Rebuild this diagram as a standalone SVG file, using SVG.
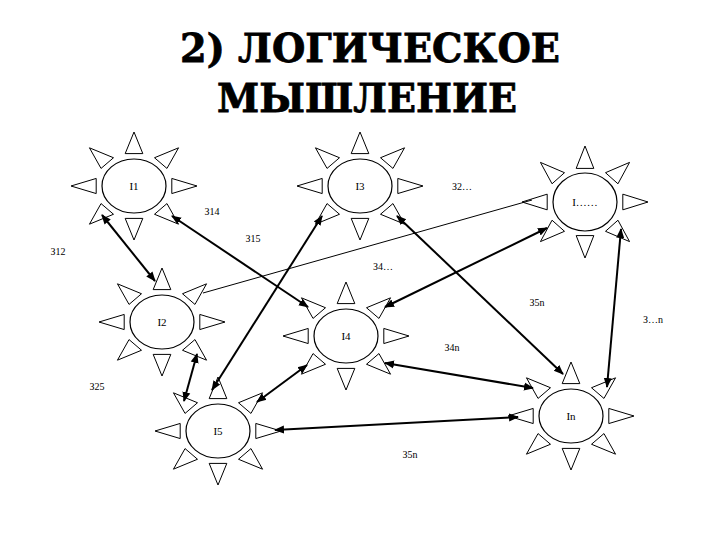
<svg xmlns="http://www.w3.org/2000/svg" xmlns:xlink="http://www.w3.org/1999/xlink" width="720" height="540" viewBox="0 0 720 540">
<style>
.ray{fill:#fff;stroke:#000;stroke-width:1;vector-effect:non-scaling-stroke}
.core{fill:#fff;stroke:#000;stroke-width:1.2}
.nl{font-family:"Liberation Serif","Times New Roman",serif;font-size:11px;text-anchor:middle;fill:#000}
.lb{font-family:"Liberation Serif","Times New Roman",serif;font-size:10px;text-anchor:middle;fill:#000}
.title{font-family:"DejaVu Serif","Liberation Serif",serif;font-weight:bold;font-size:40px;text-anchor:middle;fill:#000;stroke:#000;stroke-width:0.8}
.thick{stroke:#000;stroke-width:2;fill:none;marker-start:url(#ah);marker-end:url(#ah)}
.thin{stroke:#000;stroke-width:1;fill:none}
</style>
<defs>
<marker id="ah" viewBox="0 0 10 10" refX="9" refY="5" markerWidth="5" markerHeight="5" orient="auto-start-reverse">
<path d="M0,1 L10,5 L0,9 Z" fill="#000"/>
</marker>
<g id="rays">
<polygon class="ray" points="1,0 0.6,-0.14 0.6,0.14"/>
<polygon class="ray" points="1,0 0.6,-0.14 0.6,0.14" transform="rotate(45)"/>
<polygon class="ray" points="1,0 0.6,-0.14 0.6,0.14" transform="rotate(90)"/>
<polygon class="ray" points="1,0 0.6,-0.14 0.6,0.14" transform="rotate(135)"/>
<polygon class="ray" points="1,0 0.6,-0.14 0.6,0.14" transform="rotate(180)"/>
<polygon class="ray" points="1,0 0.6,-0.14 0.6,0.14" transform="rotate(225)"/>
<polygon class="ray" points="1,0 0.6,-0.14 0.6,0.14" transform="rotate(270)"/>
<polygon class="ray" points="1,0 0.6,-0.14 0.6,0.14" transform="rotate(315)"/>
</g>
</defs>
<rect width="720" height="540" fill="#fff"/>
<g id="title">
<text class="title" x="370" y="62" textLength="380" lengthAdjust="spacingAndGlyphs">2) ЛОГИЧЕСКОЕ</text>
<text class="title" x="367" y="112" textLength="300" lengthAdjust="spacingAndGlyphs">МЫШЛЕНИЕ</text>
</g>
<g id="I1"><use xlink:href="#rays" transform="translate(134,186) scale(63,54)"/><ellipse class="core" cx="134" cy="186" rx="32" ry="27"/><text class="nl" x="134" y="190">I1</text></g>
<g id="I3"><use xlink:href="#rays" transform="translate(360,186) scale(63,54)"/><ellipse class="core" cx="360" cy="186" rx="32" ry="27"/><text class="nl" x="360" y="190">I3</text></g>
<g id="Idots"><use xlink:href="#rays" transform="translate(585,202) scale(63,56)"/><ellipse class="core" cx="585" cy="202" rx="32" ry="29"/><text class="nl" x="585" y="206">I……</text></g>
<g id="I2"><use xlink:href="#rays" transform="translate(162,322) scale(63,54)"/><ellipse class="core" cx="162" cy="322" rx="32" ry="27"/><text class="nl" x="162" y="326">I2</text></g>
<g id="I4"><use xlink:href="#rays" transform="translate(346,336) scale(63,54)"/><ellipse class="core" cx="346" cy="336" rx="32" ry="27"/><text class="nl" x="346" y="340">I4</text></g>
<g id="In"><use xlink:href="#rays" transform="translate(571,416) scale(63,54)"/><ellipse class="core" cx="571" cy="416" rx="32" ry="27"/><text class="nl" x="571" y="420">In</text></g>
<g id="I5"><use xlink:href="#rays" transform="translate(218,431) scale(63,54)"/><ellipse class="core" cx="218" cy="431" rx="32" ry="27"/><text class="nl" x="218" y="435">I5</text></g>
<g id="connectors">
<line class="thick" x1="102" y1="215" x2="155" y2="281"/>
<line class="thick" x1="172" y1="216" x2="308" y2="307"/>
<line class="thick" x1="322" y1="216" x2="212" y2="390"/>
<line class="thick" x1="397" y1="216" x2="563" y2="374"/>
<line class="thin" x1="203" y1="293" x2="532" y2="200"/>
<line class="thick" x1="197" y1="354" x2="184" y2="401"/>
<line class="thick" x1="385" y1="307" x2="547" y2="228"/>
<line class="thick" x1="385" y1="363" x2="533" y2="388"/>
<line class="thick" x1="307" y1="365" x2="257" y2="402"/>
<line class="thick" x1="275" y1="430" x2="518" y2="417"/>
<line class="thick" x1="621" y1="229" x2="607" y2="387"/>
</g>
<g id="labels">
<text class="lb" x="462" y="190">З2…</text>
<text class="lb" x="212" y="215">З14</text>
<text class="lb" x="253" y="242">З15</text>
<text class="lb" x="58" y="255">З12</text>
<text class="lb" x="383" y="270">З4…</text>
<text class="lb" x="537" y="306">З5n</text>
<text class="lb" x="653" y="323">З…n</text>
<text class="lb" x="452" y="351">З4n</text>
<text class="lb" x="97" y="390">З25</text>
<text class="lb" x="410" y="458">З5n</text>
</g>
</svg>
